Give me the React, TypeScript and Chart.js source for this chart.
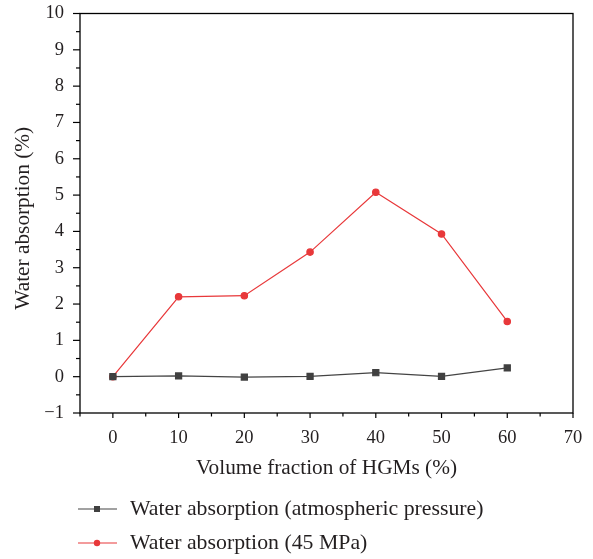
import React, { useEffect, useRef } from "react";
import { Chart, registerables } from "chart.js";

Chart.register(...registerables);

const xValues = [0, 10, 20, 30, 40, 50, 60];
const atmospheric = [0, 0.02, -0.01, 0.01, 0.11, 0.01, 0.24];
const mpa45 = [0, 2.2, 2.23, 3.43, 5.08, 3.93, 1.52];
const seriesNames = [
  "Water absorption (atmospheric pressure)",
  "Water absorption (45 MPa)",
];
const xTitle = "Volume fraction of HGMs (%)";
const yTitle = "Water absorption (%)";

const FONT = "'Liberation Serif', 'DejaVu Serif', serif";
const TXT = "#231f20";

const framePlugin = {
  id: "frame",
  afterDraw(chart: any) {
    const ctx = chart.ctx;
    const a = chart.chartArea;
    const xs = chart.scales.x;
    const ys = chart.scales.y;
    ctx.save();
    ctx.strokeStyle = "#000";
    ctx.lineWidth = 1.3;
    ctx.strokeRect(a.left, a.top, a.right - a.left, a.bottom - a.top);
    ctx.lineWidth = 1.2;
    for (let v = -5; v <= 70; v += 5) {
      const px = xs.getPixelForValue(v);
      const len = v % 10 === 0 ? 5 : 3.5;
      ctx.beginPath();
      ctx.moveTo(px, a.bottom);
      ctx.lineTo(px, a.bottom + len);
      ctx.stroke();
    }
    for (let v = -1; v <= 10; v += 0.5) {
      const py = ys.getPixelForValue(v);
      const len = Number.isInteger(v) ? 7 : 4;
      ctx.beginPath();
      ctx.moveTo(a.left, py);
      ctx.lineTo(a.left - len, py);
      ctx.stroke();
    }
    ctx.fillStyle = TXT;
    ctx.textAlign = "center";
    ctx.textBaseline = "middle";
    ctx.font = `21.3px ${FONT}`;
    ctx.fillText(xTitle, (a.left + a.right) / 2, a.bottom + 55);
    ctx.save();
    ctx.translate(23, (a.top + a.bottom) / 2 + 5);
    ctx.rotate(-Math.PI / 2);
    ctx.fillText(yTitle, 0, 0);
    ctx.restore();
    ctx.font = `21.8px ${FONT}`;
    const ds = chart.data.datasets;
    ds.forEach((d: any, i: number) => {
      const y = a.bottom + 96 + i * 34;
      ctx.strokeStyle = d.borderColor;
      ctx.lineWidth = 1.2;
      ctx.beginPath();
      ctx.moveTo(78, y);
      ctx.lineTo(117, y);
      ctx.stroke();
      ctx.fillStyle = d.pointBackgroundColor;
      if (d.pointStyle === "rect") {
        ctx.fillRect(94, y - 3, 6, 6);
      } else {
        ctx.beginPath();
        ctx.arc(97, y, 3.2, 0, Math.PI * 2);
        ctx.fill();
      }
      ctx.fillStyle = TXT;
      ctx.textAlign = "left";
      ctx.fillText(d.label, 130, y);
    });
    ctx.restore();
  },
};

export default function App() {
  const ref = useRef<HTMLCanvasElement>(null);
  useEffect(() => {
    if (!ref.current) return;
    const chart = new Chart(ref.current, {
      type: "line",
      data: {
        datasets: [
          {
            label: seriesNames[0],
            data: xValues.map((x, i) => ({ x, y: atmospheric[i] })),
            borderColor: "#444444",
            backgroundColor: "#444444",
            pointBackgroundColor: "#404040",
            pointBorderColor: "#404040",
            pointStyle: "rect",
            pointRadius: 4.3,
            borderWidth: 1.2,
          },
          {
            label: seriesNames[1],
            data: xValues.map((x, i) => ({ x, y: mpa45[i] })),
            borderColor: "#e8383a",
            backgroundColor: "#e8383a",
            pointBackgroundColor: "#e8383a",
            pointBorderColor: "#e8383a",
            pointStyle: "circle",
            pointRadius: 3.2,
            borderWidth: 1.2,
          },
        ],
      },
      options: {
        animation: false,
        responsive: false,
        layout: { padding: { top: 13.5, right: 20, bottom: 106, left: 0 } },
        plugins: { legend: { display: false }, tooltip: { enabled: false } },
        scales: {
          x: {
            type: "linear",
            min: -5,
            max: 70,
            afterFit: (s: any) => {
              s.height = 40;
              s.paddingLeft = 0;
              s.paddingRight = 0;
            },
            border: { display: false },
            grid: { display: false, drawTicks: false },
            ticks: {
              stepSize: 10,
              includeBounds: false,
              padding: 14,
              color: TXT,
              font: { family: FONT, size: 18.5 },
            },
          },
          y: {
            type: "linear",
            min: -1,
            max: 10,
            afterFit: (s: any) => {
              s.width = 80;
              s.paddingTop = 0;
              s.paddingBottom = 0;
            },
            border: { display: false },
            grid: { display: false, drawTicks: false },
            ticks: {
              stepSize: 1,
              padding: 16,
              color: TXT,
              font: { family: FONT, size: 18.5 },
              callback: (v: any) => (v < 0 ? "\u2212" + Math.abs(v) : String(v)),
            },
          },
        },
      },
      plugins: [framePlugin],
    });
    return () => chart.destroy();
  }, []);
  return (
    <div style={{ position: "absolute", left: 0, top: 0, width: 593, height: 559, background: "#fff" }}>
      <canvas ref={ref} width={593} height={559} style={{ width: 593, height: 559 }} />
    </div>
  );
}
